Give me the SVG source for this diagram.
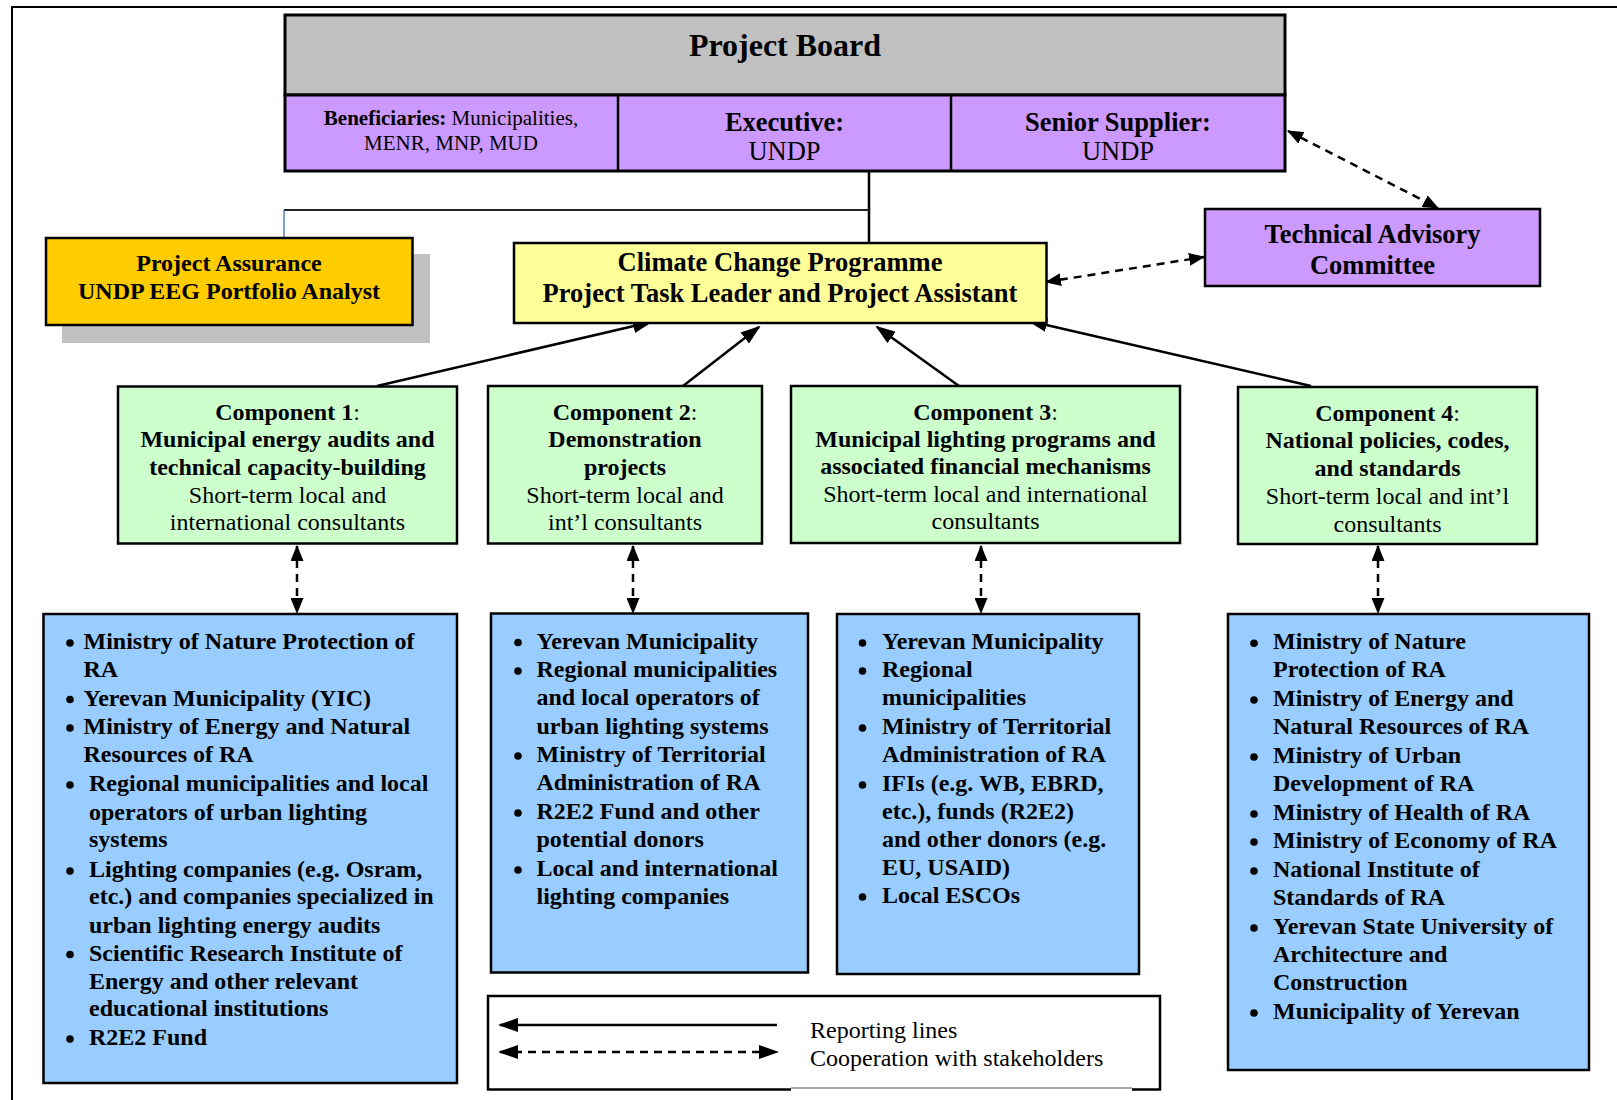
<svg xmlns="http://www.w3.org/2000/svg" width="1617" height="1100" viewBox="0 0 1617 1100">
<style>
text{font-family:"Liberation Serif","Times New Roman",serif;fill:#000}
.c{text-anchor:middle}
.b{font-weight:bold}
.box{stroke:#000;stroke-width:2.5}
.li{font-weight:bold;font-size:24px}
.comp{font-size:24px}
.ln{fill:none;stroke:#000;stroke-width:2.5}
.ds{fill:none;stroke:#000;stroke-width:2.5;stroke-dasharray:8 6}
</style>
<defs>
<marker id="ah" markerUnits="userSpaceOnUse" markerWidth="20" markerHeight="14" refX="18" refY="7" orient="auto-start-reverse"><path d="M0,0 L20,7 L0,14 z" fill="#000"/></marker>
<marker id="ahd" markerUnits="userSpaceOnUse" markerWidth="16" markerHeight="13" refX="15" refY="6.5" orient="auto-start-reverse"><path d="M0,0 L16,6.5 L0,13 z" fill="#000"/></marker>
</defs>
<rect width="1617" height="1100" fill="#fff"/>
<path d="M12,1100 V7 H1617" fill="none" stroke="#000" stroke-width="2"/>

<g id="connectors">
<line x1="869" y1="172" x2="869" y2="243" stroke="#000" stroke-width="2.5"/>
<line x1="284" y1="210" x2="869" y2="210" stroke="#222" stroke-width="2"/>
<line x1="284" y1="210" x2="284" y2="238" stroke="#4F81BD" stroke-width="1.5"/>
<line class="ln" x1="377" y1="386" x2="651" y2="322" marker-end="url(#ah)"/>
<line class="ln" x1="683" y1="386" x2="759" y2="327" marker-end="url(#ah)"/>
<line class="ln" x1="959" y1="386" x2="877" y2="327" marker-end="url(#ah)"/>
<line class="ln" x1="1311" y1="386" x2="1029" y2="321" marker-end="url(#ah)"/>
<line class="ds" x1="1288" y1="131" x2="1438" y2="208" marker-start="url(#ahd)" marker-end="url(#ahd)"/>
<line class="ds" x1="1046" y1="282" x2="1204" y2="257" marker-start="url(#ahd)" marker-end="url(#ahd)"/>
<line class="ds" x1="297" y1="546" x2="297" y2="613" marker-start="url(#ahd)" marker-end="url(#ahd)"/>
<line class="ds" x1="633" y1="546" x2="633" y2="613" marker-start="url(#ahd)" marker-end="url(#ahd)"/>
<line class="ds" x1="981" y1="546" x2="981" y2="613" marker-start="url(#ahd)" marker-end="url(#ahd)"/>
<line class="ds" x1="1378" y1="546" x2="1378" y2="613" marker-start="url(#ahd)" marker-end="url(#ahd)"/>
</g>

<g id="project-board">
<rect x="285" y="15" width="1000" height="80" fill="#C0C0C0" stroke="#000" stroke-width="3"/>
<rect x="285" y="95" width="1000" height="76" fill="#CC99FF" stroke="#000" stroke-width="3"/>
<line x1="618" y1="95" x2="618" y2="171" stroke="#000" stroke-width="2.5"/>
<line x1="951" y1="95" x2="951" y2="171" stroke="#000" stroke-width="2.5"/>
<text x="785" y="56" class="c b" font-size="32">Project Board</text>
<text x="451" y="125" class="c" font-size="21"><tspan font-weight="bold">Beneficiaries:</tspan> Municipalities,</text>
<text x="451" y="150" class="c" font-size="21">MENR, MNP, MUD</text>
<text x="784.5" y="131" class="c b" font-size="26.5">Executive:</text>
<text x="784.5" y="160" class="c" font-size="26.5">UNDP</text>
<text x="1118" y="131" class="c b" font-size="26.5">Senior Supplier:</text>
<text x="1118" y="160" class="c" font-size="26.5">UNDP</text>
</g>

<g id="project-assurance">
<rect x="62" y="254" width="368" height="89" fill="#C0C0C0"/>
<rect x="46" y="238" width="366.5" height="87" fill="#FFCC00" class="box"/>
<text x="229" y="271" class="c b" font-size="24">Project Assurance</text>
<text x="229" y="299" class="c b" font-size="24">UNDP EEG Portfolio Analyst</text>
</g>

<g id="task-leader">
<rect x="514" y="243" width="532.5" height="80" fill="#FFFF99" class="box"/>
<text x="780" y="271" class="c b" font-size="26.5">Climate Change Programme</text>
<text x="780" y="302" class="c b" font-size="26.5">Project Task Leader and Project Assistant</text>
</g>

<g id="tac">
<rect x="1205" y="209" width="335" height="77" fill="#CC99FF" class="box"/>
<text x="1372.5" y="243" class="c b" font-size="26.5">Technical Advisory</text>
<text x="1372.5" y="274" class="c b" font-size="26.5">Committee</text>
</g>

<g id="component-1">
<rect x="118" y="386.5" width="339" height="157" fill="#CCFFCC" class="box"/>
<text x="287.5" y="420" class="c comp"><tspan font-weight="bold">Component 1</tspan>:</text>
<text x="287.5" y="447" class="c comp b">Municipal energy audits and</text>
<text x="287.5" y="475" class="c comp b">technical capacity-building</text>
<text x="287.5" y="502.5" class="c comp">Short-term local and</text>
<text x="287.5" y="530" class="c comp">international consultants</text>
</g>

<g id="component-2">
<rect x="488" y="386" width="274" height="157.5" fill="#CCFFCC" class="box"/>
<text x="625" y="419.5" class="c comp"><tspan font-weight="bold">Component 2</tspan>:</text>
<text x="625" y="447" class="c comp b">Demonstration</text>
<text x="625" y="475" class="c comp b">projects</text>
<text x="625" y="502.5" class="c comp">Short-term local and</text>
<text x="625" y="530" class="c comp">int’l consultants</text>
</g>

<g id="component-3">
<rect x="791" y="386" width="389" height="157" fill="#CCFFCC" class="box"/>
<text x="985.5" y="419.5" class="c comp"><tspan font-weight="bold">Component 3</tspan>:</text>
<text x="985.5" y="447" class="c comp b">Municipal lighting programs and</text>
<text x="985.5" y="474" class="c comp b">associated financial mechanisms</text>
<text x="985.5" y="501.5" class="c comp">Short-term local and international</text>
<text x="985.5" y="528.5" class="c comp">consultants</text>
</g>

<g id="component-4">
<rect x="1238" y="387" width="299" height="157" fill="#CCFFCC" class="box"/>
<text x="1387.5" y="420.5" class="c comp"><tspan font-weight="bold">Component 4</tspan>:</text>
<text x="1387.5" y="448" class="c comp b">National policies, codes,</text>
<text x="1387.5" y="475.5" class="c comp b">and standards</text>
<text x="1387.5" y="503.5" class="c comp">Short-term local and int’l</text>
<text x="1387.5" y="532" class="c comp">consultants</text>
</g>

<g id="stakeholders-1">
<rect x="43.5" y="614" width="413.5" height="469" fill="#99CCFF" class="box"/>
<g fill="#000">
<circle cx="70" cy="643" r="3.8"/><circle cx="70" cy="699.5" r="3.8"/><circle cx="70" cy="728" r="3.8"/>
<circle cx="70" cy="785" r="3.8"/><circle cx="70" cy="871" r="3.8"/><circle cx="70" cy="954.5" r="3.8"/><circle cx="70" cy="1039" r="3.8"/>
</g>
<text x="83.5" y="649" class="li">Ministry of Nature Protection of</text>
<text x="83.5" y="677" class="li">RA</text>
<text x="83.5" y="705.5" class="li">Yerevan Municipality (YIC)</text>
<text x="83.5" y="734" class="li">Ministry of Energy and Natural</text>
<text x="83.5" y="762" class="li">Resources of RA</text>
<text x="89" y="791" class="li">Regional municipalities and local</text>
<text x="89" y="819.5" class="li">operators of urban lighting</text>
<text x="89" y="847" class="li">systems</text>
<text x="89" y="877" class="li">Lighting companies (e.g. Osram,</text>
<text x="89" y="904" class="li">etc.) and companies specialized in</text>
<text x="89" y="932.5" class="li">urban lighting energy audits</text>
<text x="89" y="960.5" class="li">Scientific Research Institute of</text>
<text x="89" y="988.5" class="li">Energy and other relevant</text>
<text x="89" y="1016" class="li">educational institutions</text>
<text x="89" y="1045" class="li">R2E2 Fund</text>
</g>

<g id="stakeholders-2">
<rect x="491" y="613.5" width="317" height="359" fill="#99CCFF" class="box"/>
<g fill="#000">
<circle cx="518" cy="642.5" r="3.8"/><circle cx="518" cy="671" r="3.8"/><circle cx="518" cy="756" r="3.8"/>
<circle cx="518" cy="813" r="3.8"/><circle cx="518" cy="870" r="3.8"/>
</g>
<text x="536.5" y="648.5" class="li">Yerevan Municipality</text>
<text x="536.5" y="677" class="li">Regional municipalities</text>
<text x="536.5" y="705" class="li">and local operators of</text>
<text x="536.5" y="733.5" class="li">urban lighting systems</text>
<text x="536.5" y="762" class="li">Ministry of Territorial</text>
<text x="536.5" y="790" class="li">Administration of RA</text>
<text x="536.5" y="819" class="li">R2E2 Fund and other</text>
<text x="536.5" y="847" class="li">potential donors</text>
<text x="536.5" y="876" class="li">Local and international</text>
<text x="536.5" y="903.5" class="li">lighting companies</text>
</g>

<g id="stakeholders-3">
<rect x="837" y="614" width="302" height="360" fill="#99CCFF" class="box"/>
<g fill="#000">
<circle cx="862.5" cy="643" r="3.8"/><circle cx="862.5" cy="671" r="3.8"/><circle cx="862.5" cy="728" r="3.8"/>
<circle cx="862.5" cy="785" r="3.8"/><circle cx="862.5" cy="897" r="3.8"/>
</g>
<text x="882" y="649" class="li">Yerevan Municipality</text>
<text x="882" y="677" class="li">Regional</text>
<text x="882" y="705" class="li">municipalities</text>
<text x="882" y="734" class="li">Ministry of Territorial</text>
<text x="882" y="762" class="li">Administration of RA</text>
<text x="882" y="791" class="li">IFIs (e.g. WB, EBRD,</text>
<text x="882" y="819" class="li">etc.), funds (R2E2)</text>
<text x="882" y="847" class="li">and other donors (e.g.</text>
<text x="882" y="875" class="li">EU, USAID)</text>
<text x="882" y="903" class="li">Local ESCOs</text>
</g>

<g id="stakeholders-4">
<rect x="1228" y="614" width="361" height="456" fill="#99CCFF" class="box"/>
<g fill="#000">
<circle cx="1254" cy="643.3" r="3.8"/><circle cx="1254" cy="700" r="3.8"/><circle cx="1254" cy="757" r="3.8"/>
<circle cx="1254" cy="814" r="3.8"/><circle cx="1254" cy="842" r="3.8"/><circle cx="1254" cy="871" r="3.8"/>
<circle cx="1254" cy="928" r="3.8"/><circle cx="1254" cy="1013" r="3.8"/>
</g>
<text x="1273" y="649.3" class="li">Ministry of Nature</text>
<text x="1273" y="677" class="li">Protection of RA</text>
<text x="1273" y="706" class="li">Ministry of Energy and</text>
<text x="1273" y="733.5" class="li">Natural Resources of RA</text>
<text x="1273" y="763" class="li">Ministry of Urban</text>
<text x="1273" y="791" class="li">Development of RA</text>
<text x="1273" y="820" class="li">Ministry of Health of RA</text>
<text x="1273" y="848" class="li">Ministry of Economy of RA</text>
<text x="1273" y="877" class="li">National Institute of</text>
<text x="1273" y="905" class="li">Standards of RA</text>
<text x="1273" y="934" class="li">Yerevan State University of</text>
<text x="1273" y="962" class="li">Architecture and</text>
<text x="1273" y="990" class="li">Construction</text>
<text x="1273" y="1019" class="li">Municipality of Yerevan</text>
</g>

<g id="legend">
<rect x="488" y="996" width="672" height="93.5" fill="#fff" stroke="#000" stroke-width="2.5"/>
<rect x="791" y="1087.5" width="341" height="4" fill="#fff"/>
<line x1="791" y1="1088" x2="1132" y2="1088" stroke="#555" stroke-width="1"/>
<line class="ln" x1="777" y1="1025" x2="500" y2="1025" marker-end="url(#ah)"/>
<line class="ds" x1="500" y1="1052" x2="777" y2="1052" marker-start="url(#ah)" marker-end="url(#ah)"/>
<text x="810" y="1038" font-size="24">Reporting lines</text>
<text x="810" y="1066" font-size="24">Cooperation with stakeholders</text>
</g>
</svg>
